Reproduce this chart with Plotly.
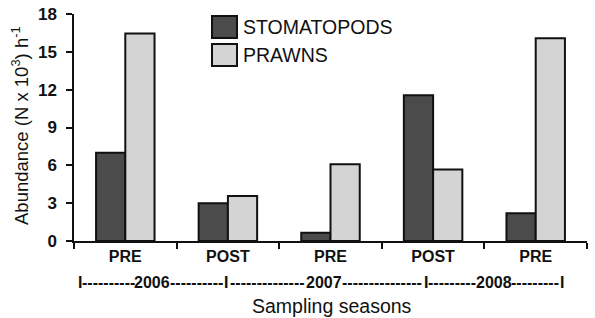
import plotly.graph_objects as go

categories = ["PRE", "POST", "PRE ", "POST ", "PRE  "]
tick_labels = ["PRE", "POST", "PRE", "POST", "PRE"]
stomatopods = [7.0, 3.0, 0.65, 11.55, 2.2]
prawns = [16.45, 3.57, 6.08, 5.66, 16.07]
series_names = ["STOMATOPODS", "PRAWNS"]
years = ["2006", "2007", "2008"]

dark = "#4b4b4b"
light = "#d4d4d4"
edge = "#111111"
font_fam = "Liberation Sans, Arial, sans-serif"

fig = go.Figure()
fig.add_bar(x=categories, y=stomatopods, name=series_names[0], marker=dict(color=dark, line=dict(color=edge, width=2)), showlegend=False)
fig.add_bar(x=categories, y=prawns, name=series_names[1], marker=dict(color=light, line=dict(color=edge, width=2)), showlegend=False)

L, T, W, H = 74, 14, 513, 227
def px(x): return (x - L) / W
def py(y): return (T + H - y) / H

fig.update_layout(
    width=595, height=318,
    margin=dict(l=L, r=595 - L - W, t=T, b=318 - T - H, autoexpand=False),
    paper_bgcolor="white", plot_bgcolor="white",
    barmode="group", bargap=0.43, bargroupgap=0,
    font=dict(family=font_fam, color="#111", size=16),
    xaxis=dict(
        tickmode="array", tickvals=categories, ticktext=tick_labels,
        tickson="boundaries", ticks="outside", ticklen=6, tickwidth=1.5, tickcolor="#111",
        showline=True, linecolor="#111", linewidth=1.5,
        tickfont=dict(size=16, family=font_fam, weight="bold"),
        showgrid=False, automargin=False,
    ),
    yaxis=dict(
        range=[0, 18], dtick=3, tick0=0,
        ticks="outside", ticklen=6, tickwidth=1.5, tickcolor="#111",
        showline=True, linecolor="#111", linewidth=1.5,
        tickfont=dict(size=17, family=font_fam, weight="bold"),
        ticklabelstandoff=6,
        showgrid=False, zeroline=False, automargin=False,
    ),
)

# legend drawn manually
for i, (nm, col) in enumerate(zip(series_names, [dark, light])):
    y_top = 16 + i * 28
    fig.add_shape(type="rect", xref="paper", yref="paper",
                  x0=px(212), x1=px(237), y0=py(y_top + 22), y1=py(y_top),
                  fillcolor=col, line=dict(color=edge, width=2))
    fig.add_annotation(text=nm, xref="paper", yref="paper", x=px(241), y=py(y_top + 11),
                       xanchor="left", yanchor="middle", showarrow=False,
                       font=dict(size=19.5, family=font_fam, color="#111"))

# year line: I----2006----I----2007----I----2008----I
yl = py(282)
yr_font = dict(size=16, family=font_fam, color="#111", weight="bold")
bar_pos = [80, 226, 426, 562]
year_pos = [152, 323.5, 493.5]
year_half = 18
for xp in bar_pos:
    fig.add_annotation(text="I", xref="paper", yref="paper", x=px(xp), y=yl,
                       xanchor="center", yanchor="middle", showarrow=False, font=yr_font)
for k, (yv, xc) in enumerate(zip(years, year_pos)):
    fig.add_annotation(text=yv, xref="paper", yref="paper", x=px(xc), y=yl,
                       xanchor="center", yanchor="middle", showarrow=False, font=yr_font)
    left_gap = (bar_pos[k] + 3, xc - year_half)
    right_gap = (xc + year_half, bar_pos[k + 1] - 3)
    for g0, g1 in (left_gap, right_gap):
        n = max(1, int(round((g1 - g0) / 5.33)))
        fig.add_annotation(text="-" * n, xref="paper", yref="paper", x=px((g0 + g1) / 2), y=yl,
                           xanchor="center", yanchor="middle", showarrow=False, font=yr_font)

fig.add_annotation(text="Sampling seasons", xref="paper", yref="paper", x=px(332), y=py(306),
                   xanchor="center", yanchor="middle", showarrow=False,
                   font=dict(size=19.5, family=font_fam, color="#111"))
fig.add_annotation(text="Abundance (N x 10<sup>3</sup>) h<sup>-1</sup>", xref="paper", yref="paper",
                   x=px(20), y=py(126), textangle=-90,
                   xanchor="center", yanchor="middle", showarrow=False,
                   font=dict(size=18.5, family=font_fam, color="#111"))

fig.write_html("out.html", config={"displayModeBar": False},
               post_script="document.body.style.margin='0';document.body.style.overflow='hidden';")
